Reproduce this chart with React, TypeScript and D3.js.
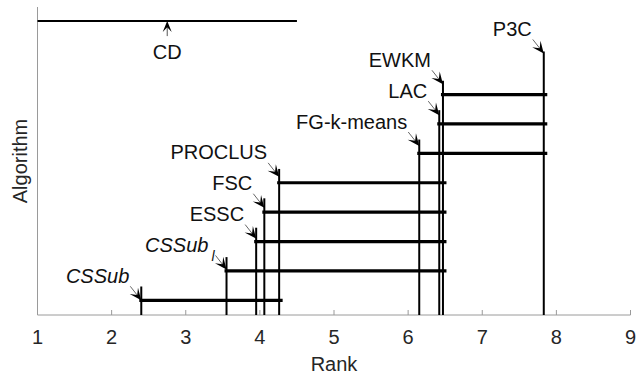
import React from "react";
import * as d3 from "d3";

// Average ranks of the compared subspace clustering algorithms (lower is better)
const algorithms = ["CSSub", "CSSub_l", "ESSC", "FSC", "PROCLUS", "FG-k-means", "LAC", "EWKM", "P3C"];
const averageRanks = [2.4, 3.55, 3.95, 4.06, 4.26, 6.15, 6.42, 6.47, 7.83];
const italicNames = ["CSSub", "CSSub_l"];
const criticalDifference = 3.5;
const rankTicks = [1, 2, 3, 4, 5, 6, 7, 8, 9];

const W = 637;
const H = 376;
const FONT = "'Liberation Sans', Arial, Helvetica, sans-serif";
const FS = 20;
const AXIS_COLOR = "#9a9a9a";
const TEXT_COLOR = "#262626";

type Pt = { x: number; y: number };

// Notched ("vback") arrowhead pointing along direction u, tip at t
function arrowHead(t: Pt, u: Pt, len = 12, wid = 10.5): string {
  const n = { x: -u.y, y: u.x };
  const bx = t.x - u.x * len;
  const by = t.y - u.y * len;
  const nx = t.x - u.x * len * 0.55;
  const ny = t.y - u.y * len * 0.55;
  const p = d3.path();
  p.moveTo(t.x, t.y);
  p.lineTo(bx + (n.x * wid) / 2, by + (n.y * wid) / 2);
  p.lineTo(nx, ny);
  p.lineTo(bx - (n.x * wid) / 2, by - (n.y * wid) / 2);
  p.closePath();
  return p.toString();
}

function Label({ name, x, y }: { name: string; x: number; y: number }) {
  const italic = italicNames.includes(name);
  const [base, sub] = name.split("_");
  return (
    <text
      x={x}
      y={y}
      textAnchor="end"
      fontFamily={FONT}
      fontSize={FS}
      fontStyle={italic ? "italic" : "normal"}
      fill="#111"
    >
      {base}
      {sub ? (
        <tspan dx={3} dy={9} fontSize={14}>
          {sub}
        </tspan>
      ) : null}
    </text>
  );
}

export default function App() {
  const x = d3.scaleLinear().domain([1, 9]).range([37.5, 630.5]);
  const y = d3.scaleLinear().domain([0, 10.48]).range([315, 7]);

  const x0 = x.range()[0];
  const x1 = x.range()[1];
  const y0 = y(0);
  const yTop = y(10.48);

  // Clique bars: each algorithm connects to the farthest one within the critical difference
  const bars = averageRanks
    .map((r, i) => {
      let j = i;
      averageRanks.forEach((s, k) => {
        if (k > i && s - r < criticalDifference) j = k;
      });
      return { i, from: r, to: averageRanks[j], has: j > i };
    })
    .filter((b) => b.has);

  const cdY = y(10);
  const cdMid = 1 + criticalDifference / 2;
  const cdTip = { x: x(cdMid), y: cdY };

  const dir = { x: 11, y: 14 };
  const dl = Math.hypot(dir.x, dir.y);
  const u = { x: dir.x / dl, y: dir.y / dl };

  return (
    <svg
      width={W}
      height={H}
      style={{ position: "absolute", left: 0, top: 0, background: "#fff" }}
    >
      {/* axes */}
      <line x1={x0} y1={yTop} x2={x0} y2={y0} stroke={AXIS_COLOR} strokeWidth={1} />
      <line x1={x0} y1={y0} x2={x1} y2={y0} stroke={AXIS_COLOR} strokeWidth={1} />
      {rankTicks.map((t) => (
        <g key={t}>
          <line x1={x(t)} y1={y0} x2={x(t)} y2={y0 - 5} stroke={AXIS_COLOR} strokeWidth={1} />
          <text
            x={x(t)}
            y={344}
            textAnchor="middle"
            fontFamily={FONT}
            fontSize={FS}
            fill={TEXT_COLOR}
          >
            {t}
          </text>
        </g>
      ))}
      <text
        x={(x0 + x1) / 2}
        y={371}
        textAnchor="middle"
        fontFamily={FONT}
        fontSize={FS}
        fill={TEXT_COLOR}
      >
        Rank
      </text>
      <text
        transform={`translate(${27},${(yTop + y0) / 2}) rotate(-90)`}
        textAnchor="middle"
        fontFamily={FONT}
        fontSize={FS}
        fill={TEXT_COLOR}
      >
        Algorithm
      </text>

      {/* critical difference */}
      <line x1={x(1)} y1={cdY} x2={x(1 + criticalDifference)} y2={cdY} stroke="#000" strokeWidth={2} />
      <line x1={cdTip.x} y1={cdTip.y + 15} x2={cdTip.x} y2={cdTip.y + 5} stroke="#555" strokeWidth={1} />
      <path d={arrowHead(cdTip, { x: 0, y: -1 }, 11, 9)} fill="#000" />
      <text x={cdTip.x} y={cdTip.y + 38} textAnchor="middle" fontFamily={FONT} fontSize={FS} fill="#111">
        CD
      </text>

      {/* rank markers */}
      {averageRanks.map((r, i) => (
        <line
          key={"v" + i}
          x1={x(r)}
          y1={y0}
          x2={x(r)}
          y2={y(0.97 + i)}
          stroke="#000"
          strokeWidth={2}
        />
      ))}
      {bars.map((b) => (
        <line
          key={"b" + b.i}
          x1={x(b.from) - 2}
          y1={y(0.5 + b.i)}
          x2={x(b.to) + 3.5}
          y2={y(0.5 + b.i)}
          stroke="#000"
          strokeWidth={3.2}
        />
      ))}

      {/* labels with arrows */}
      {algorithms.map((name, i) => {
        const tip = { x: x(averageRanks[i]), y: y(0.5 + 1.05 * i) };
        const tail = { x: tip.x - dir.x, y: tip.y - dir.y };
        return (
          <g key={name}>
            <line
              x1={tail.x}
              y1={tail.y}
              x2={tip.x - u.x * 6}
              y2={tip.y - u.y * 6}
              stroke="#666"
              strokeWidth={1}
            />
            <path d={arrowHead(tip, u)} fill="#000" />
            <Label name={name} x={tail.x - 1} y={tail.y - 3.5} />
          </g>
        );
      })}
    </svg>
  );
}
